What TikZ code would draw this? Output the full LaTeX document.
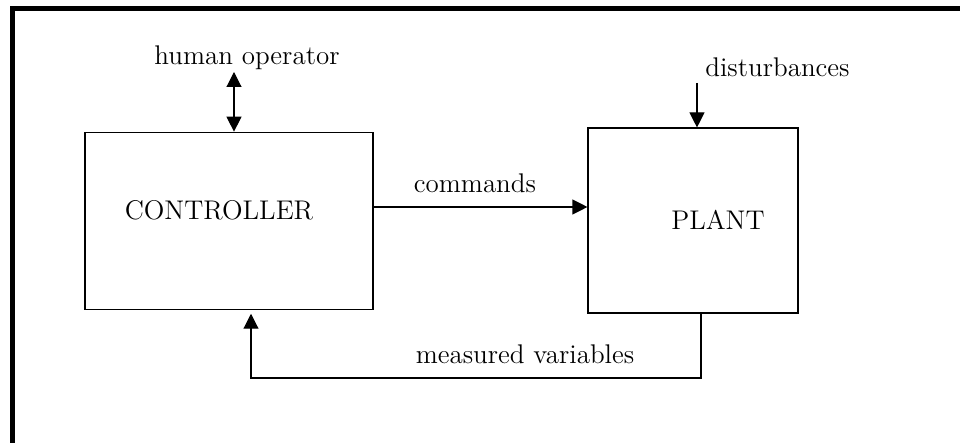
\documentclass[tikz,border=0pt]{standalone}
\usetikzlibrary{arrows.meta}
\begin{document}
\begin{tikzpicture}[x=0.5pt,y=-0.5pt,
  txt/.style={font=\fontsize{13.5}{16}\selectfont, inner sep=0pt},
  blockbox/.style={draw=black, line width=0.55pt, inner sep=0pt},
  conn/.style={line width=0.55pt, -{Triangle[length=7.5pt,width=7.5pt]}},
  bothconn/.style={line width=0.55pt, {Triangle[length=7.5pt,width=7.5pt]}-{Triangle[length=7.5pt,width=7.5pt]}}]
\useasboundingbox (0,0) rectangle (960,443);
% heavy frame along the top and the left side
\draw[line width=2.5pt, line join=miter] (960,8.5) -- (12,8.5) -- (12,443);

% blocks
\node[blockbox, minimum width=144pt, minimum height=88.5pt] (ctrl) at (229,220.7) {};
\node[blockbox, minimum width=105pt, minimum height=92.5pt] (plant) at (693,220.5) {};
\node[txt, anchor=base] (ctrltxt) at (219,220) {CONTROLLER};
\node[txt, anchor=base] (planttxt) at (718,230) {PLANT};

% signal labels
\node[txt, anchor=base] (hoplab) at (247,65) {human operator};
\node[txt, anchor=base west] (distlab) at (705,77) {disturbances};
\node[txt, anchor=base] (cmdlab) at (475,193) {commands};
\node[txt, anchor=base] (measlab) at (525,364) {measured variables};

% connector end points
\coordinate (hoptop) at (234,72);
\coordinate (disttop) at (697,83);
\coordinate (cmdy) at (0,207);
\coordinate (fbx) at (701,0);
\coordinate (fbturn) at (251,378);

% connectors
\draw[bothconn] (hoptop) -- (hoptop |- ctrl.north);
\draw[conn] (disttop) -- (disttop |- plant.north);
\draw[conn] (ctrl.east |- cmdy) -- (plant.west |- cmdy);
\draw[conn, shorten >=2pt] (plant.south -| fbx) -- (fbx |- fbturn) -- (fbturn) -- (fbturn |- ctrl.south);
\end{tikzpicture}
\end{document}
